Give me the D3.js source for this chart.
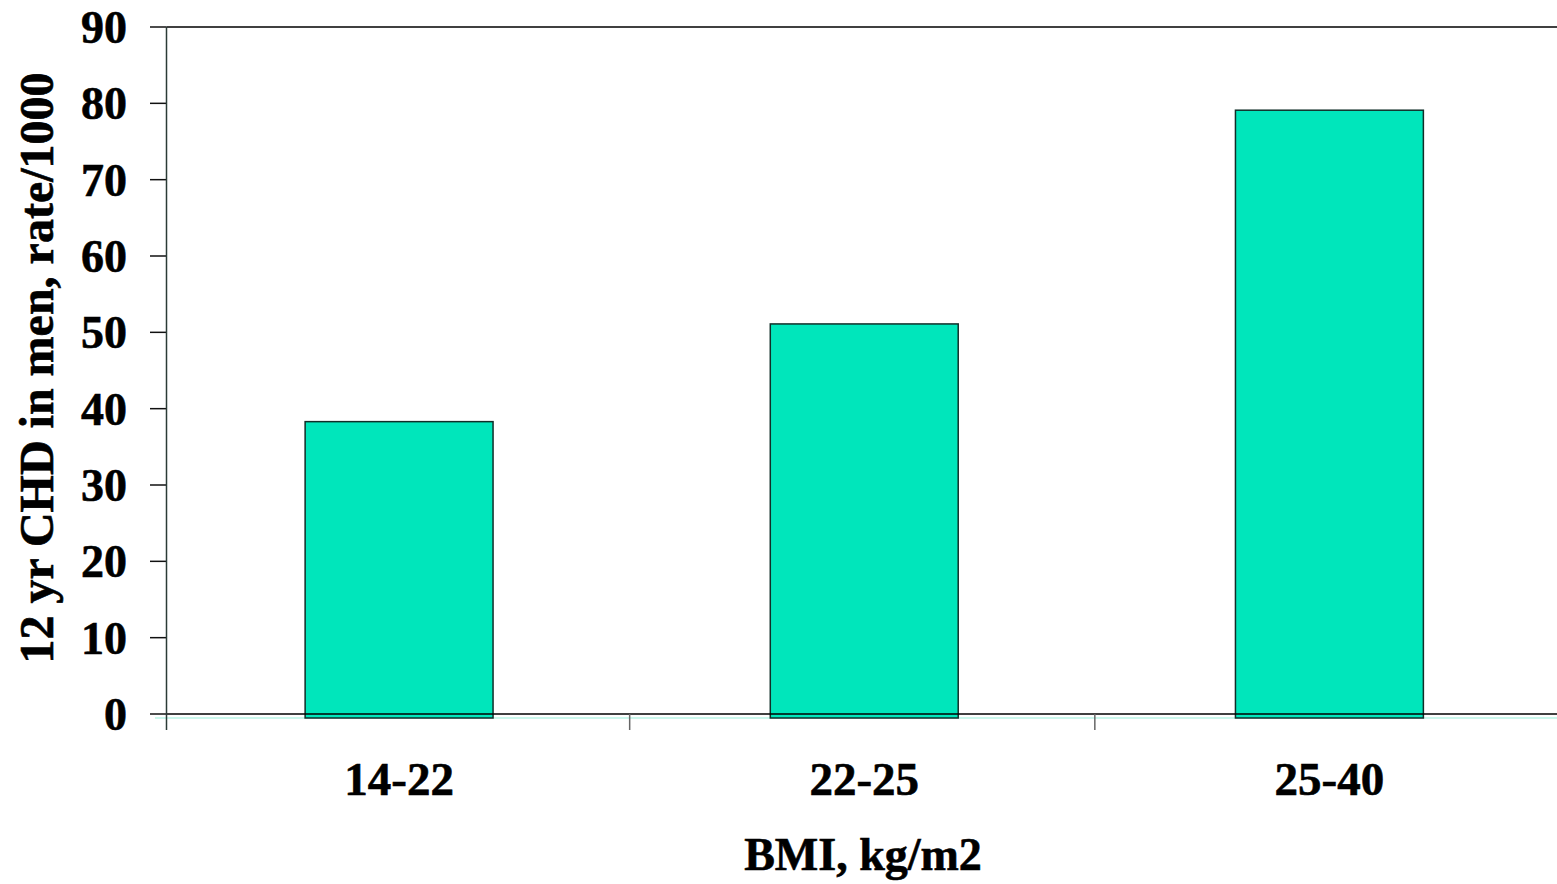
<!DOCTYPE html>
<html>
<head>
<meta charset="utf-8">
<script src="https://cdn.jsdelivr.net/npm/d3@7"></script>
<style>
  body { margin: 0; background: #fff; }
  text { font-family: "Liberation Serif", "Times New Roman", serif; font-weight: bold; fill: #000; stroke: #000; stroke-width: 0.6px; }
</style>
</head>
<body>
<div id="main"></div>
<script>
'use strict'

// chart data
const categories = ["14-22", "22-25", "25-40"];
const rates = [38.3, 51.1, 79.1];
const yTicks = [0, 10, 20, 30, 40, 50, 60, 70, 80, 90];
const xTitle = "BMI, kg/m2";
const yTitle = "12 yr CHD in men, rate/1000";

document.addEventListener('DOMContentLoaded', function(){
  drawBarChart();
});

function drawBarChart(){
  let svgWidth = 1557;
  let svgHeight = 884;

  let left = 166.5;
  let right = 1557;
  let top = 27;
  let bottom = 714;

  let svg = d3.select('#main')
    .append('svg')
    .attr('width', svgWidth)
    .attr('height', svgHeight);

  //Define the scales (plot area runs slightly past the right edge)
  let xScale = d3.scaleBand()
    .domain(categories)
    .range([left, 1562])
    .paddingInner(0)
    .paddingOuter(0);

  let yScale = d3.scaleLinear()
    .domain([0, 90])
    .range([bottom, top]);

  //faint cyan shadow under the zero line
  svg.append("line")
    .attr("x1", 155).attr("x2", right)
    .attr("y1", yScale(0) + 4).attr("y2", yScale(0) + 4)
    .attr("stroke", "#b8f5e6")
    .attr("stroke-width", 1.5);

  //Draw the bars
  let barWidth = xScale.bandwidth() * 0.404;
  svg.selectAll("rect.bar")
    .data(rates)
    .enter()
    .append("rect")
    .attr("class", "bar")
    .attr("x", (d, i) => xScale(categories[i]) + xScale.bandwidth() / 2 - barWidth / 2)
    .attr("y", d => yScale(d))
    .attr("width", barWidth)
    .attr("height", d => yScale(0) + 4 - yScale(d))
    .attr("fill", "#00e6bb")
    .attr("stroke", "#112e28")
    .attr("stroke-width", 1.5);

  //y ticks and labels
  let yAxis = svg.append("g");
  yAxis.selectAll("line.tick")
    .data(yTicks)
    .enter()
    .append("line")
    .attr("x1", 150)
    .attr("x2", left)
    .attr("y1", d => yScale(d))
    .attr("y2", d => yScale(d))
    .attr("stroke", "#111")
    .attr("stroke-width", 1.5);

  yAxis.selectAll("text")
    .data(yTicks)
    .enter()
    .append("text")
    .attr("x", 127)
    .attr("y", d => yScale(d))
    .attr("dy", "0.35em")
    .attr("text-anchor", "end")
    .style("font-size", "46px")
    .text(d => d);

  //top border and zero line
  svg.append("line")
    .attr("x1", left).attr("x2", right)
    .attr("y1", yScale(90)).attr("y2", yScale(90))
    .attr("stroke", "#000").attr("stroke-width", 1.5);
  svg.append("line")
    .attr("x1", left).attr("x2", right)
    .attr("y1", yScale(0)).attr("y2", yScale(0))
    .attr("stroke", "#000").attr("stroke-width", 1.5);

  //y axis line
  svg.append("line")
    .attr("x1", left).attr("x2", left)
    .attr("y1", yScale(90)).attr("y2", yScale(0) + 16)
    .attr("stroke", "#2b3b36")
    .attr("stroke-width", 1.5);

  //category separators
  svg.selectAll("line.cat")
    .data(categories.slice(1))
    .enter()
    .append("line")
    .attr("class", "cat")
    .attr("x1", d => xScale(d) - 2)
    .attr("x2", d => xScale(d) - 2)
    .attr("y1", yScale(0))
    .attr("y2", yScale(0) + 16)
    .attr("stroke", "#666")
    .attr("stroke-width", 1.5);

  //category labels
  svg.selectAll("text.cat")
    .data(categories)
    .enter()
    .append("text")
    .attr("class", "cat")
    .attr("x", d => xScale(d) + xScale.bandwidth() / 2)
    .attr("y", 795)
    .attr("text-anchor", "middle")
    .style("font-size", "47px")
    .text(d => d);

  //axis titles
  svg.append("text")
    .attr("x", 863)
    .attr("y", 870)
    .attr("text-anchor", "middle")
    .style("font-size", "46px")
    .text(xTitle);

  svg.append("text")
    .attr("transform", "translate(53, 368) rotate(-90)")
    .attr("text-anchor", "middle")
    .style("font-size", "48px")
    .text(yTitle);
}
</script>
</body>
</html>
